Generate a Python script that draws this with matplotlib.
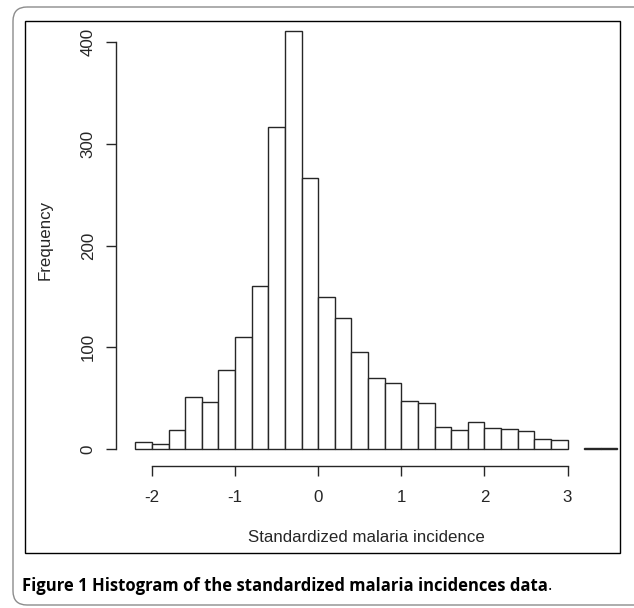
import matplotlib
matplotlib.use("Agg")
import matplotlib.pyplot as plt
import numpy as np
from matplotlib.patches import FancyBboxPatch, Rectangle

# Data: histogram bins of width 0.2 starting at -2.2
bin_edges = [round(-2.2 + 0.2 * i, 1) for i in range(30)]
counts = [7, 5, 19, 51, 46, 78, 110, 160, 316, 411, 266, 149, 129,
          95, 70, 65, 47, 45, 22, 19, 27, 21, 20, 18, 10, 9, 0, 1, 1]
x_ticks = [-2, -1, 0, 1, 2, 3]
y_ticks = [0, 100, 200, 300, 400]
x_label = "Standardized malaria incidence"
y_label = "Frequency"
caption_bold = "Figure 1 Histogram of the standardized malaria incidences data"
caption_end = "."

W, H = 634, 608
fig = plt.figure(figsize=(W / 100, H / 100), dpi=100)

def fx(px):
    return px / W

def fy(py):
    return 1 - py / H

# Outer rounded border and inner frame
bg = fig.add_axes([0, 0, 1, 1])
bg.set_xlim(0, W)
bg.set_ylim(H, 0)
bg.axis("off")
bg.add_patch(FancyBboxPatch((13, 7), 660, 598, boxstyle="round,pad=0,rounding_size=14",
                            fill=False, edgecolor="#8c8c8c", linewidth=1.0))
bg.add_patch(Rectangle((25, 21), 595, 532, fill=False, edgecolor="black", linewidth=1.0))

# Plot mapping (pixels)
x0_px, px_per_unit = 152, 83.1
y0_px, px_per_count = 449, 1.0175
ax_left_px, ax_right_px = 116, 620
ax_top_px, ax_bot_px = 21, 466
ax = fig.add_axes([fx(ax_left_px), fy(ax_bot_px), (ax_right_px - ax_left_px) / W,
                   (ax_bot_px - ax_top_px) / H])
ax.set_xlim((ax_left_px - x0_px) / px_per_unit - 2, (ax_right_px - x0_px) / px_per_unit - 2)
ax.set_ylim((y0_px - ax_bot_px) / px_per_count, (y0_px - ax_top_px) / px_per_count)
ax.patch.set_alpha(0)

ink = "#262626"
widths = np.diff(bin_edges)
for left, w, c in zip(bin_edges[:-1], widths, counts):
    if c > 0:
        ax.add_patch(Rectangle((left, 0), w, c, facecolor="white", edgecolor=ink,
                               linewidth=1.0, clip_on=False))

for s in ["top", "right"]:
    ax.spines[s].set_visible(False)
ax.spines["left"].set_bounds(0, 400)
ax.spines["bottom"].set_bounds(-2, 3)
for s in ["left", "bottom"]:
    ax.spines[s].set_color(ink)
    ax.spines[s].set_linewidth(1.0)
ax.set_xticks(x_ticks)
ax.set_xticklabels([str(v) for v in x_ticks])
ax.set_yticks(y_ticks)
ax.set_yticklabels([str(v) for v in y_ticks], rotation=90, va="center")
fs = 12.2
ax.tick_params(direction="out", length=7.5, width=1.0, color=ink,
               labelsize=fs, labelcolor=ink)
ax.tick_params(axis="x", pad=9.5)
ax.tick_params(axis="y", pad=7.0)
for t in ax.get_xticklabels() + ax.get_yticklabels():
    t.set_fontfamily("Liberation Sans")

fig.text(fx(366), fy(537), x_label, fontsize=fs, color=ink, family="Liberation Sans",
         ha="center", va="center")
fig.text(fx(45), fy(240), y_label, fontsize=fs, color=ink, family="Liberation Sans",
         ha="center", va="center", rotation=90)

# Caption
cap_x, cap_y, cap_w = 22, 586, 531
cap_fs = 11.0
t1 = fig.text(fx(cap_x), fy(cap_y), caption_bold, fontsize=cap_fs, fontweight="bold",
              family="Open Sans", va="center", ha="left", color="black")
fig.canvas.draw()
r = fig.canvas.get_renderer()
wpx = t1.get_window_extent(r).width
t1.set_fontsize(cap_fs * (cap_w - 4) / wpx)
fig.canvas.draw()
bb = t1.get_window_extent(r)
fig.text(bb.x1 / W, fy(cap_y), caption_end, fontsize=t1.get_fontsize(),
         family="Open Sans", va="center", ha="left", color="black")
fig.savefig("out.png", dpi=100)
